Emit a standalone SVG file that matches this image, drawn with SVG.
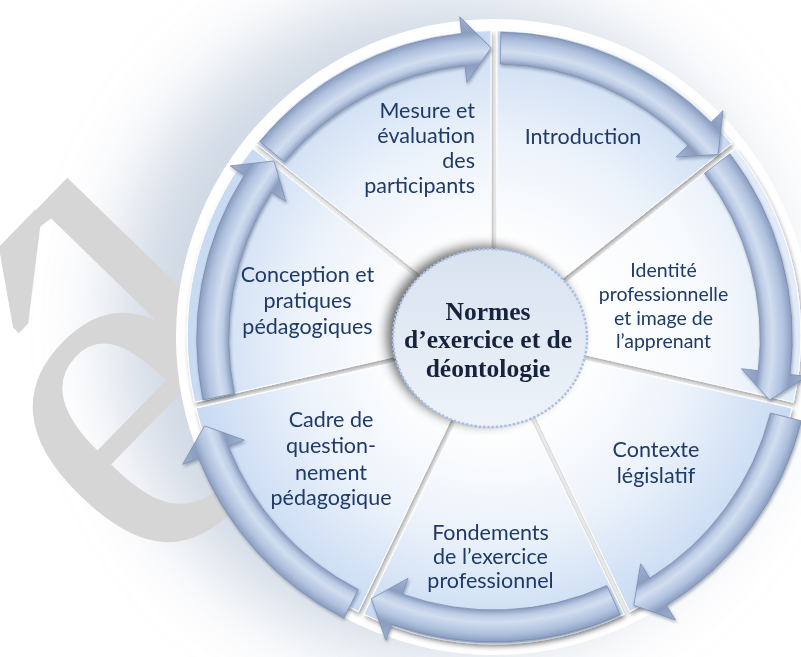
<svg xmlns="http://www.w3.org/2000/svg" width="801" height="657" viewBox="0 0 801 657">
<defs>
<filter id="glow" x="-50%" y="-50%" width="200%" height="200%"><feGaussianBlur stdDeviation="40"/></filter>
<filter id="wsh" x="-15%" y="-15%" width="130%" height="130%"><feDropShadow dx="1.5" dy="3" stdDeviation="2" flood-color="#000" flood-opacity="0.35"/></filter>
<filter id="ash" x="-15%" y="-15%" width="130%" height="130%"><feDropShadow dx="1" dy="2" stdDeviation="1.5" flood-color="#1a2640" flood-opacity="0.35"/></filter>
<filter id="csh" x="-40%" y="-40%" width="180%" height="180%"><feGaussianBlur stdDeviation="6"/></filter>
<radialGradient id="gArrow" gradientUnits="userSpaceOnUse" cx="494" cy="337" r="330">
<stop offset="0.776" stop-color="#a3b5d3"/>
<stop offset="0.827" stop-color="#8a9dc0"/>
<stop offset="0.845" stop-color="#bccbe4"/>
<stop offset="0.865" stop-color="#d2def0"/>
<stop offset="0.9" stop-color="#afc1de"/>
<stop offset="0.924" stop-color="#8a9dbf"/>
<stop offset="0.976" stop-color="#a0b2d1"/>
</radialGradient>
<radialGradient id="gWedge" gradientUnits="userSpaceOnUse" cx="494" cy="337" r="300">
<stop offset="0.3" stop-color="#ffffff"/>
<stop offset="0.65" stop-color="#edf3fb"/>
<stop offset="1" stop-color="#c9dbf3"/>
</radialGradient>
<radialGradient id="gWedgeL" gradientUnits="userSpaceOnUse" cx="494" cy="337" r="300">
<stop offset="0.3" stop-color="#ffffff"/>
<stop offset="0.7" stop-color="#f7fafd"/>
<stop offset="1" stop-color="#e2ecf8"/>
</radialGradient>
<linearGradient id="gCenter" x1="0" y1="0" x2="0" y2="1">
<stop offset="0" stop-color="#d8e2ef"/>
<stop offset="1" stop-color="#eef3f9"/>
</linearGradient>
</defs>
<style>
.lbl{font-family:Lato,"Liberation Sans",sans-serif;font-size:21.5px;fill:#1f3a68}
.sm{font-size:19.5px}
.ctr{font-family:"Liberation Serif",serif;font-weight:bold;font-size:25.5px;fill:#16233c;text-anchor:middle}
.arrow{fill:url(#gArrow);stroke:#7a8db0;stroke-width:0.8;stroke-linejoin:round}
.wedge{fill:url(#gWedge);stroke:#ffffff;stroke-width:1}
.light{fill:url(#gWedgeL)}
</style>
<rect width="801" height="657" fill="#ffffff"/>
<circle cx="445" cy="325" r="330" fill="#b9c6d8" opacity="0.7" filter="url(#glow)"/>
<text transform="rotate(-45.8)" x="-319" y="519" font-family="Liberation Serif" font-size="500" fill="#d6d6d6">é<tspan dx="-73">l</tspan></text>
<circle cx="494" cy="337" r="318" fill="#ffffff"/>

<g filter="url(#wsh)">
<g id="introduction">
<path class="wedge" d="M497.04,330.69 L497.04,30.69 A300,300 0 0 1 731.59,143.64 Z"/>
<text class="lbl" x="583" y="144" text-anchor="middle">Introduction</text>
</g>
<g id="identite">
<path class="wedge light" d="M500.82,335.44 L735.37,148.39 A300,300 0 0 1 793.30,402.20 Z"/>
<text class="lbl sm" text-anchor="middle"><tspan x="663.5" y="277">Identité</tspan><tspan x="663.5" y="301">professionnelle</tspan><tspan x="663.5" y="325">et image de</tspan><tspan x="663.5" y="348">l’apprenant</tspan></text>
</g>
<g id="contexte">
<path class="wedge" d="M499.47,341.36 L791.95,408.12 A300,300 0 0 1 629.63,611.65 Z"/>
<text class="lbl" text-anchor="middle"><tspan x="656" y="457">Contexte</tspan><tspan x="656" y="483">législatif</tspan></text>
</g>
<g id="fondements">
<path class="wedge" d="M494,344 L624.16,614.29 A300,300 0 0 1 363.84,614.29 Z"/>
<text class="lbl" text-anchor="middle"><tspan x="490.5" y="540">Fondements</tspan><tspan x="490.5" y="564">de l’exercice</tspan><tspan x="490.5" y="588">professionnel</tspan></text>
</g>
<g id="cadre">
<path class="wedge" d="M488.53,341.36 L358.37,611.65 A300,300 0 0 1 196.05,408.12 Z"/>
<text class="lbl" text-anchor="middle"><tspan x="331" y="427">Cadre de</tspan><tspan x="331" y="453">question-</tspan><tspan x="331" y="480">nement</tspan><tspan x="331" y="505">pédagogique</tspan></text>
</g>
<g id="conception">
<path class="wedge" d="M487.18,335.44 L194.70,402.20 A300,300 0 0 1 252.63,148.39 Z"/>
<text class="lbl" text-anchor="middle"><tspan x="307.5" y="282">Conception et</tspan><tspan x="307.5" y="308">pratiques</tspan><tspan x="307.5" y="334">pédagogiques</tspan></text>
</g>
<g id="mesure">
<path class="wedge" d="M490.96,330.69 L256.41,143.64 A300,300 0 0 1 490.96,30.69 Z"/>
<text class="lbl" text-anchor="end"><tspan x="475" y="118">Mesure et</tspan><tspan x="475" y="143">évaluation</tspan><tspan x="475" y="168">des</tspan><tspan x="475" y="193">participants</tspan></text>
</g>
</g>

<g id="connectors" filter="url(#ash)">
<path class="arrow" d="M500.92,32.08 A305,305 0 0 1 710.91,122.58 L723.0,110.63 L718.05,154.46 L676.06,157.03 L688.15,145.08 A273,273 0 0 0 500.19,64.07 Z"/>
<path class="arrow" transform="translate(-6.8,1.6)" d="M736.72,152.29 A305,305 0 0 1 796.88,372.89 L813.76,374.89 L776.41,398.35 L748.22,367.12 L765.10,369.12 A273,273 0 0 0 711.25,171.67 Z"/>
<path class="arrow" transform="translate(11.7,9.3)" d="M789.74,411.60 A305,305 0 0 1 654.79,596.18 L663.75,610.63 L622.11,596.06 L628.96,554.54 L637.92,568.99 A273,273 0 0 0 758.71,403.77 Z"/>
<path class="arrow" d="M620.07,614.73 A305,305 0 0 1 391.62,624.30 L385.91,640.31 L371.34,598.68 L408.07,578.14 L402.36,594.16 A273,273 0 0 0 606.84,585.59 Z"/>
<path class="arrow" transform="translate(-11.7,9.3)" d="M355.47,608.72 A305,305 0 0 1 210.22,448.78 L194.40,455.01 L216.20,416.66 L255.81,430.82 L240.0,437.05 A273,273 0 0 0 370.0,580.22 Z"/>
<path class="arrow" transform="translate(7.8,1.8)" d="M195.18,398.10 A305,305 0 0 1 236.68,173.25 L222.34,164.13 L266.18,159.19 L278.02,199.56 L263.68,190.43 A273,273 0 0 0 226.53,391.69 Z"/>
<path class="arrow" d="M259.92,141.47 A305,305 0 0 1 461.59,33.73 L459.78,16.82 L490.97,48.01 L466.80,82.45 L464.99,65.54 A273,273 0 0 0 284.48,161.99 Z"/>
</g>

<g id="centre">
<ellipse cx="484" cy="335" rx="97" ry="89" fill="#000" opacity="0.6" filter="url(#csh)"/>
<ellipse cx="490" cy="338" rx="97" ry="89" fill="url(#gCenter)" stroke="#a9c0e6" stroke-width="2.5" stroke-dasharray="2.5 1.8"/>
<text class="ctr"><tspan x="488" y="320">Normes</tspan><tspan x="488" y="348">d’exercice et de</tspan><tspan x="488" y="377">déontologie</tspan></text>
</g>
</svg>
